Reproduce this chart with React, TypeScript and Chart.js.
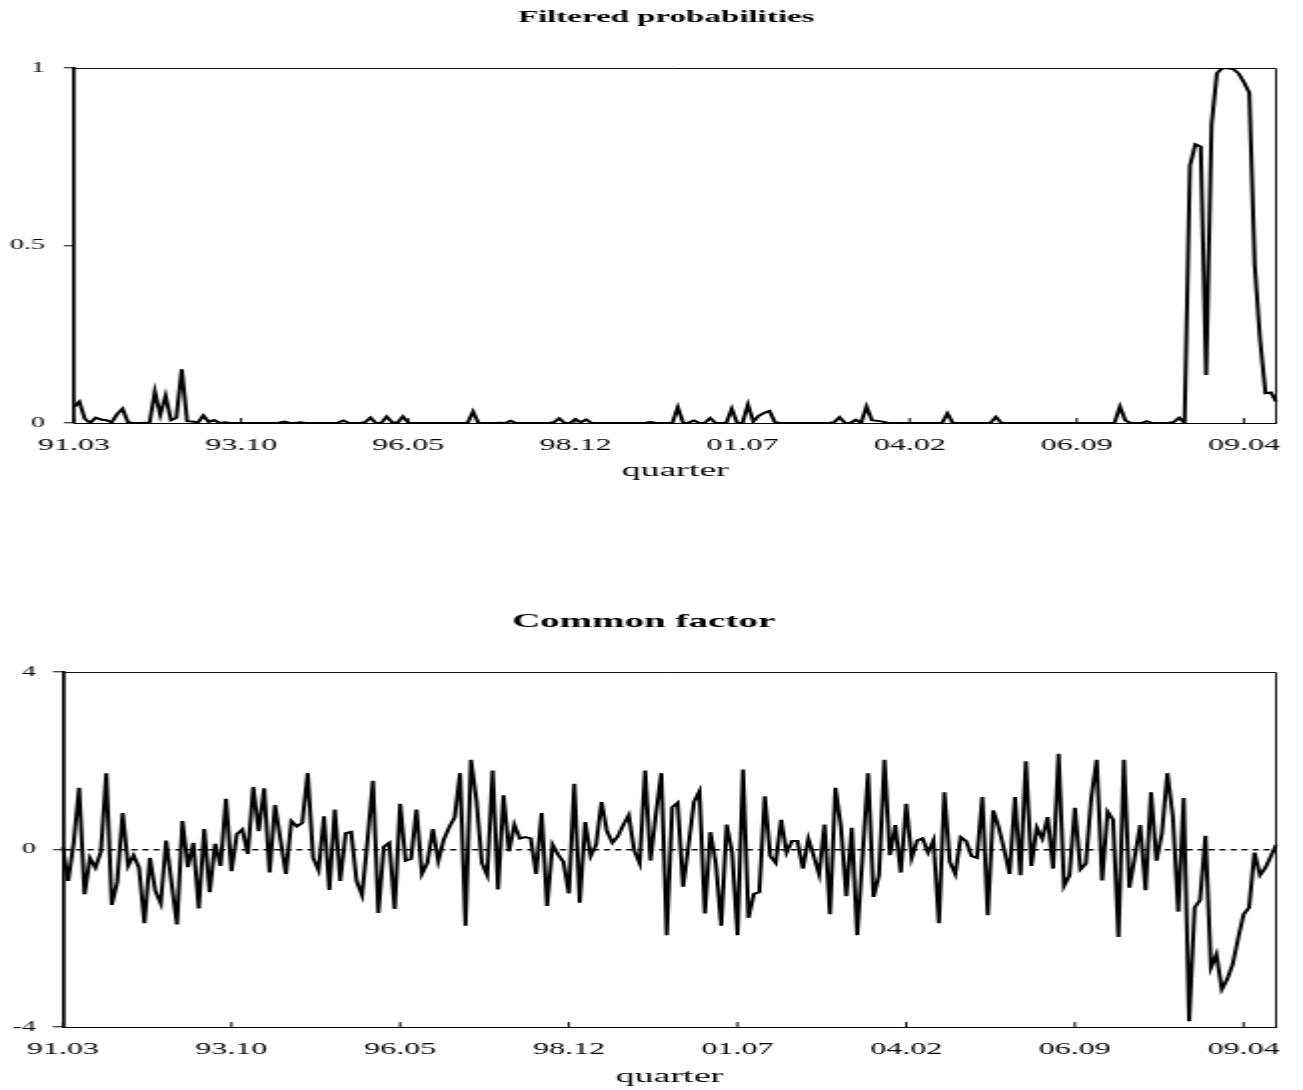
import React, { useEffect, useRef } from 'react';
import { Chart, registerables } from 'chart.js';

Chart.register(...registerables);

// ---------------- data ----------------
const TICK_LABELS = ['91.03', '93.10', '96.05', '98.12', '01.07', '04.02', '06.09', '09.04'];
const TICK_STEP = 31;

const PROB = [
  0.045, 0.06, 0.012, 0, 0.015, 0.01, 0.008, 0.002, 0.025, 0.04,
  0.002, 0, 0, 0.001, 0, 0.088, 0.023, 0.077, 0.008, 0.015,
  0.151, 0.005, 0.004, 0.001, 0.021, 0.003, 0.008, 0, 0.002, 0,
  0, 0, 0, 0, 0, 0, 0, 0, 0.001, 0.004,
  0, 0, 0.002, 0, 0, 0, 0, 0, 0, 0.001,
  0.007, 0, 0, 0, 0.002, 0.015, 0, 0, 0.018, 0.002,
  0, 0.018, 0.001, 0, 0, 0, 0, 0, 0, 0,
  0, 0, 0, 0, 0.032, 0, 0, 0, 0, 0.001,
  0, 0.006, 0, 0, 0, 0, 0, 0, 0, 0.002,
  0.013, 0, 0, 0.011, 0.002, 0.01, 0, 0, 0, 0,
  0, 0, 0, 0, 0, 0, 0.001, 0.003, 0, 0,
  0, 0, 0.044, 0, 0.001, 0.007, 0, 0, 0.014, 0,
  0, 0, 0.04, 0, 0, 0.052, 0.004, 0.02, 0.028, 0.034,
  0.002, 0, 0, 0, 0, 0, 0, 0, 0, 0,
  0, 0.002, 0.016, 0, 0, 0.009, 0, 0.046, 0.008, 0.006,
  0.004, 0, 0, 0, 0, 0, 0, 0, 0, 0,
  0, 0, 0.027, 0, 0, 0, 0, 0, 0, 0,
  0, 0.017, 0, 0, 0, 0, 0, 0, 0, 0,
  0, 0, 0, 0, 0, 0, 0, 0, 0, 0,
  0, 0, 0, 0.001, 0.046, 0.007, 0, 0, 0, 0.005,
  0, 0, 0, 0, 0.003, 0.015, 0, 0.725, 0.785, 0.778,
  0.135, 0.84, 0.985, 1.0, 0.999, 0.997, 0.985, 0.96, 0.93, 0.445,
  0.234, 0.084, 0.086, 0.06,
];

const FACTOR = [
  0.05, -0.71, 0.15, 1.39, -1.01, -0.19, -0.41, -0.05, 1.72, -1.25,
  -0.73, 0.82, -0.37, -0.13, -0.41, -1.66, -0.19, -0.94, -1.22, 0.2,
  -0.75, -1.69, 0.64, -0.4, 0.15, -1.33, 0.46, -0.96, 0.13, -0.37,
  1.14, -0.49, 0.35, 0.45, -0.1, 1.41, 0.41, 1.38, -0.52, 1.0,
  0.22, -0.55, 0.64, 0.52, 0.6, 1.72, -0.19, -0.47, 0.75, -0.91,
  0.9, -0.71, 0.37, 0.4, -0.71, -1.03, 0.19, 1.55, -1.43, 0.06,
  0.15, -1.34, 1.03, -0.25, -0.21, 0.9, -0.55, -0.3, 0.46, -0.26,
  0.22, 0.5, 0.72, 1.72, -1.72, 2.02, 1.12, -0.3, -0.58, 1.78,
  -0.9, 1.22, -0.04, 0.56, 0.25, 0.28, 0.25, -0.55, 0.82, -1.27,
  0.11, -0.11, -0.28, -0.99, 1.48, -1.2, 0.62, -0.15, 0.11, 1.07,
  0.41, 0.15, 0.3, 0.55, 0.77, -0.02, -0.31, 1.78, -0.25, 0.79,
  1.72, -1.93, 0.95, 1.05, -0.84, 0.1, 1.07, 1.31, -1.44, 0.39,
  -0.3, -1.72, 0.56, -0.07, -1.93, 1.8, -1.54, -1.0, -0.96, 1.2,
  -0.15, -0.3, 0.67, -0.07, 0.19, 0.19, -0.43, 0.24, -0.15, -0.56,
  0.56, -1.46, 1.39, 0.52, -1.05, 0.49, -1.93, -0.11, 1.72, -1.07,
  -0.58, 2.02, -0.13, 0.55, -0.52, 1.03, -0.19, 0.2, 0.25, -0.07,
  0.21, -1.66, 1.29, -0.28, -0.55, 0.28, 0.19, -0.15, -0.19, 1.18,
  -1.48, 0.88, 0.5, 0.0, -0.55, 1.18, -0.58, 1.99, -0.37, 0.49,
  0.24, 0.73, -0.43, 2.16, -0.82, -0.58, 0.94, -0.45, -0.32, 1.16,
  2.02, -0.7, 0.85, 0.67, -1.97, 2.02, -0.86, -0.16, 0.55, -0.92,
  1.29, -0.25, 0.37, 1.72, 0.75, -1.4, 1.16, -3.87, -1.31, -1.14,
  0.31, -2.66, -2.36, -3.15, -2.92, -2.58, -2.0, -1.46, -1.31, -0.07,
  -0.58, -0.41, -0.15, 0.11,
];

// monthly categories from 1991.03
const START_YEAR = 1991;
const START_MONTH = 3;
const MONTHS: string[] = [];
for (let k = 0; k < FACTOR.length; k++) {
  const m = START_MONTH - 1 + k;
  const y = START_YEAR + Math.floor(m / 12);
  const mm = (m % 12) + 1;
  MONTHS.push(String(y % 100).padStart(2, '0') + '.' + String(mm).padStart(2, '0'));
}

// ---------------- styling ----------------
const FONT = "'Liberation Serif', 'Times New Roman', Times, serif";
const CANVAS_W = 652; // drawn at half width, stretched 2x horizontally by CSS
const PAGE_W = 1303;

const framePlugin = {
  id: 'frame',
  beforeDatasetsDraw(chart: any) {
    const { ctx, chartArea: a } = chart;
    ctx.save();
    ctx.strokeStyle = '#111';
    ctx.lineWidth = 1;
    const top = Math.floor(a.top) + 0.5;
    const right = Math.round(a.right) - 0.5;
    ctx.beginPath();
    ctx.moveTo(a.left, top);
    ctx.lineTo(right, top);
    ctx.lineTo(right, a.bottom);
    ctx.stroke();
    ctx.restore();
  },
};

const innerTicksPlugin = {
  id: 'innerTicks',
  afterDatasetsDraw(chart: any) {
    const xs = chart.scales.x;
    const { ctx, chartArea } = chart;
    ctx.save();
    ctx.strokeStyle = '#000';
    ctx.lineWidth = 1;
    for (let i = 0; i < xs.ticks.length; i += TICK_STEP) {
      const x = xs.getPixelForTick(i);
      ctx.beginPath();
      ctx.moveTo(x, chartArea.bottom);
      ctx.lineTo(x, chartArea.bottom - 5);
      ctx.stroke();
    }
    ctx.restore();
  },
};

// chart heading, drawn on the canvas at a set centre
const headingPlugin = {
  id: 'heading',
  afterDraw(chart: any, _args: any, opts: any) {
    const { ctx } = chart;
    ctx.save();
    ctx.font = `bold ${opts.size}px ${FONT}`;
    ctx.fillStyle = '#000';
    ctx.textAlign = 'center';
    ctx.textBaseline = 'middle';
    ctx.fillText(opts.text, opts.x, opts.y);
    ctx.restore();
  },
};

function makeConfig(p: {
  title: string;
  titleSize: number;
  titleX: number;
  data: number[];
  yMin: number;
  yMax: number;
  yStep: number;
  plotLeft: number;
  yPad: number;
  rightPad: number;
  xHeight: number;
  xTitleBottom: number;
  zeroLine: boolean;
}): any {
  return {
    type: 'line',
    data: {
      labels: MONTHS,
      datasets: [
        {
          data: p.data,
          borderColor: '#000',
          borderWidth: 2,
          pointRadius: 0,
          tension: 0,
          fill: false,
        },
      ],
    },
    options: {
      responsive: false,
      animation: false,
      devicePixelRatio: 1,
      layout: { padding: { left: 0, right: p.rightPad, top: 68, bottom: 0 } },
      plugins: {
        legend: { display: false },
        tooltip: { enabled: false },
        title: { display: false },
        heading: { text: p.title, size: p.titleSize, x: p.titleX, y: 18 },
      },
      scales: {
        x: {
          type: 'category',
          grid: { display: false, drawTicks: false },
          border: { display: true, color: '#000', width: 1 },
          ticks: {
            autoSkip: false,
            maxRotation: 0,
            minRotation: 0,
            padding: 13.4,
            color: '#000',
            font: { family: FONT, size: 16 },
            callback: (_v: any, i: number) => (i % TICK_STEP === 0 ? TICK_LABELS[i / TICK_STEP] : ''),
          },
          title: {
            display: true,
            text: 'quarter',
            color: '#000',
            font: { family: FONT, size: 19 },
            padding: { top: 0, bottom: p.xTitleBottom },
          },
          afterFit: (s: any) => {
            s.height = p.xHeight;
          },
        },
        y: {
          min: p.yMin,
          max: p.yMax,
          ticks: {
            stepSize: p.yStep,
            padding: p.yPad,
            color: '#000',
            font: { family: FONT, size: 14 },
            callback: (v: any) => String(v),
          },
          grid: {
            drawOnChartArea: p.zeroLine,
            drawTicks: true,
            tickLength: 5,
            tickWidth: 1,
            tickColor: '#000',
            lineWidth: 1.5,
            color: (c: any) => (p.zeroLine && c.tick && c.tick.value === 0 ? '#000' : 'rgba(0,0,0,0)'),
          },
          border: { display: true, color: '#000', width: 1.75, dash: p.zeroLine ? [3, 2.5] : [] },
          afterFit: (s: any) => {
            s.width = p.plotLeft;
          },
        },
      },
    },
    plugins: [framePlugin, innerTicksPlugin, headingPlugin],
  };
}

export default function App() {
  const topRef = useRef<HTMLCanvasElement>(null);
  const botRef = useRef<HTMLCanvasElement>(null);

  useEffect(() => {
    const c1 = new Chart(
      topRef.current as HTMLCanvasElement,
      makeConfig({
        title: 'Filtered probabilities',
        titleSize: 16.5,
        titleX: 333.3,
        data: PROB,
        yMin: 0,
        yMax: 1,
        yStep: 0.5,
        plotLeft: 37,
        yPad: 9.5,
        rightPad: 12.5,
        xHeight: 77,
        xTitleBottom: 17.6,
        zeroLine: false,
      })
    );
    const c2 = new Chart(
      botRef.current as HTMLCanvasElement,
      makeConfig({
        title: 'Common factor',
        titleSize: 19.5,
        titleX: 322,
        data: FACTOR,
        yMin: -4,
        yMax: 4,
        yStep: 4,
        plotLeft: 30,
        yPad: 8.5,
        rightPad: 12,
        xHeight: 63,
        xTitleBottom: 1.6,
        zeroLine: true,
      })
    );
    return () => {
      c1.destroy();
      c2.destroy();
    };
  }, []);

  return (
    <div style={{ position: 'absolute', left: 0, top: 0, width: PAGE_W, height: 1090, background: '#fff' }}>
      <canvas
        ref={topRef}
        width={CANVAS_W}
        height={500}
        style={{ position: 'absolute', left: 0, top: 0, width: PAGE_W + 'px', height: '500px' }}
      />
      <canvas
        ref={botRef}
        width={CANVAS_W}
        height={486}
        style={{ position: 'absolute', left: 0, top: 604, width: PAGE_W + 'px', height: '486px' }}
      />
    </div>
  );
}
